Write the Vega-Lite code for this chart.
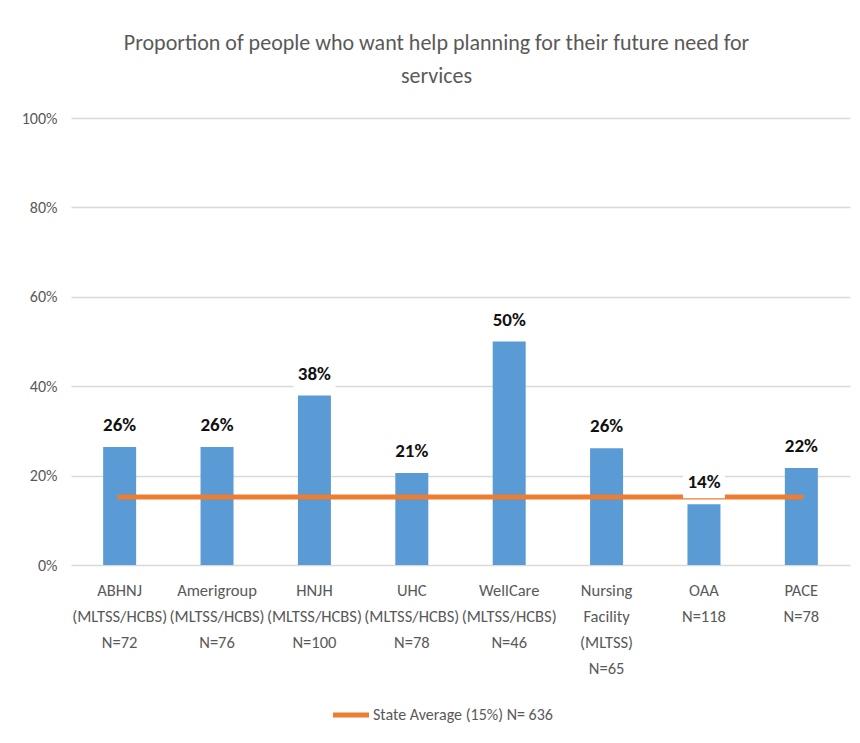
{
  "$schema": "https://vega.github.io/schema/vega-lite/v6.json",
  "width": 779,
  "height": 447,
  "autosize": {"type": "none"},
  "padding": {"left": 71, "top": 118, "right": 10, "bottom": 178},
  "background": "white",
  "title": {
    "text": ["Proportion of people who want help planning for their future need for", "services"],
    "fontSize": 22,
    "lineHeight": 33,
    "font": "Carlito",
    "fontWeight": "normal",
    "color": "#595959",
    "anchor": "middle",
    "frame": "group",
    "dx": -24,
    "offset": 22
  },
  "data": {
    "values": [
      {"plan": "ABHNJ\n(MLTSS/HCBS)\nN=72", "value": 0.264, "avg": 0.152, "series": "State Average (15%) N= 636"},
      {"plan": "Amerigroup\n(MLTSS/HCBS)\nN=76", "value": 0.264, "avg": 0.152, "series": "State Average (15%) N= 636"},
      {"plan": "HNJH\n(MLTSS/HCBS)\nN=100", "value": 0.379, "avg": 0.152, "series": "State Average (15%) N= 636"},
      {"plan": "UHC\n(MLTSS/HCBS)\nN=78", "value": 0.206, "avg": 0.152, "series": "State Average (15%) N= 636"},
      {"plan": "WellCare\n(MLTSS/HCBS)\nN=46", "value": 0.5, "avg": 0.152, "series": "State Average (15%) N= 636"},
      {"plan": "Nursing\nFacility\n(MLTSS)\nN=65", "value": 0.261, "avg": 0.152, "series": "State Average (15%) N= 636"},
      {"plan": "OAA\nN=118", "value": 0.136, "avg": 0.152, "series": "State Average (15%) N= 636"},
      {"plan": "PACE\nN=78", "value": 0.217, "avg": 0.152, "series": "State Average (15%) N= 636"}
    ]
  },
  "encoding": {
    "x": {
      "field": "plan",
      "type": "nominal",
      "sort": null,
      "scale": {"paddingInner": 0.667, "paddingOuter": 0.333},
      "axis": {
        "title": null,
        "labelAngle": 0,
        "labelExpr": "split(datum.value, '\\n')",
        "labelFont": "Carlito",
        "labelFontSize": 16.5,
        "labelLineHeight": 26,
        "labelColor": "#595959",
        "labelPadding": 17,
        "labelOverlap": false,
        "labelLimit": 200,
        "domain": false,
        "ticks": false
      }
    }
  },
  "layer": [
    {
      "mark": {"type": "bar", "color": "#5B9BD5", "width": 33},
      "encoding": {
        "y": {
          "field": "value",
          "type": "quantitative",
          "scale": {"domain": [0, 1]},
          "axis": {
            "title": null,
            "format": ".0%",
            "values": [0, 0.2, 0.4, 0.6, 0.8, 1],
            "labelFont": "Carlito",
            "labelFontSize": 16,
            "labelColor": "#595959",
            "labelPadding": 14,
            "domain": false,
            "ticks": false,
            "gridColor": "#D9D9D9",
            "gridWidth": 1.5
          }
        }
      }
    },
    {
      "mark": {"type": "line", "strokeWidth": 5, "strokeCap": "round"},
      "encoding": {
        "y": {"field": "avg", "type": "quantitative"},
        "color": {
          "field": "series",
          "type": "nominal",
          "scale": {"range": ["#ED7D31"]},
          "legend": {
            "title": null,
            "orient": "none",
            "legendX": 259,
            "legendY": 576,
            "direction": "horizontal",
            "symbolType": "stroke",
            "symbolStrokeWidth": 5,
            "symbolSize": 1300,
            "labelFont": "Carlito",
            "labelFontSize": 16,
            "labelColor": "#595959",
            "labelLimit": 400,
            "labelOffset": 1
          }
        }
      }
    },
    {
      "mark": {"type": "bar", "color": "white", "width": 42, "yOffset": -6, "y2Offset": -31},
      "encoding": {
        "y": {"field": "value", "type": "quantitative"},
        "y2": {"field": "value"}
      }
    },
    {
      "mark": {"type": "text", "baseline": "alphabetic", "dy": -16, "fontSize": 19, "fontWeight": "bold", "font": "Carlito", "color": "#111111"},
      "encoding": {
        "y": {"field": "value", "type": "quantitative"},
        "text": {"field": "value", "type": "quantitative", "format": ".0%"}
      }
    }
  ],
  "config": {
    "view": {"stroke": null}
  }
}
